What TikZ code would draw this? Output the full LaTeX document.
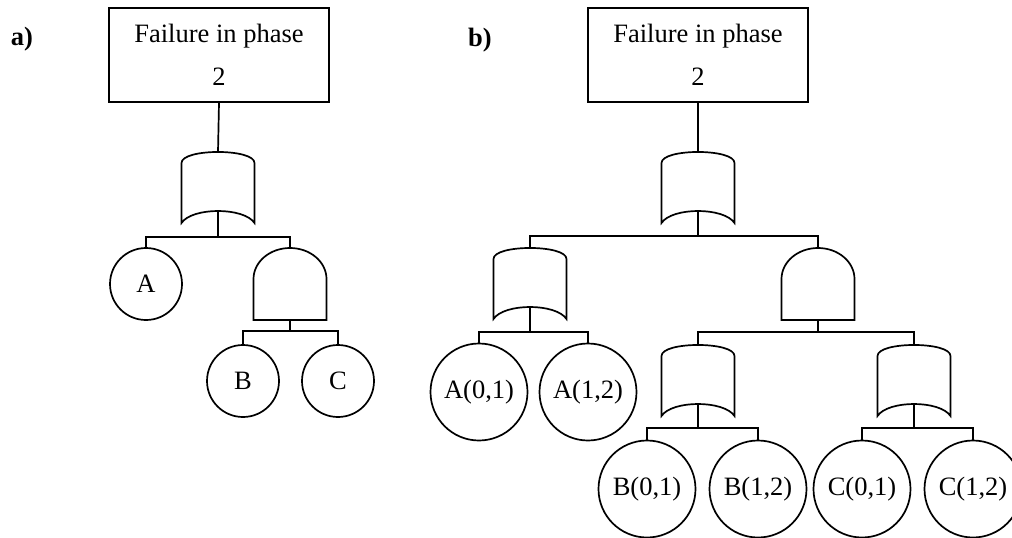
\documentclass[tikz,border=0pt]{standalone}
\usepackage{fontspec}
\setmainfont{Liberation Serif}
\usetikzlibrary{positioning}

% gate shapes, (0,0) is the input on top
\tikzset{
  orgate/.pic={
    \draw (-36.5,71) -- (-36.5,11) .. controls (-36.5,-3.7) and (36.5,-3.7) .. (36.5,11)
      -- (36.5,71) .. controls (26,55) and (-26,55) .. (-36.5,71) -- cycle;
    \coordinate (-in) at (0,0);
    \coordinate (-out) at (0,59);
  },
  andgate/.pic={
    \draw (-36.5,72) -- (-36.5,31) .. controls (-36.5,13.9) and (-20.2,0) .. (0,0)
      .. controls (20.2,0) and (36.5,13.9) .. (36.5,31) -- (36.5,72) -- cycle;
    \coordinate (-in) at (0,0);
    \coordinate (-out) at (0,72);
  }
}

\begin{document}
\begin{tikzpicture}[x=1pt, y=-1pt, line width=1.7pt,
    font=\fontsize{26.5}{31}\selectfont,
    topev/.style={draw, minimum width=220pt, minimum height=94pt, align=center,
      font=\fontsize{26.5}{43}\selectfont},
    smallev/.style={draw, circle, minimum size=72pt, inner sep=0pt},
    bigev/.style={draw, circle, minimum size=97pt, inner sep=0pt}]
    \useasboundingbox (0,0) rectangle (1012,538);

    % Panel a
    \node[font=\fontsize{26.5}{31}\selectfont\bfseries] (la) at (22,39) {a)};
    \node[topev] (topa) at (219,55) {Failure in phase\\2};
    \pic (ga1) at (218,152) {orgate};
    \pic (ga2) at (290,248) {andgate};
    \node[smallev] (ca) at (146,284) {A};
    \node[smallev] (cb) at (243,381) {B};
    \node[smallev] (cc) at (338,381) {C};

    \draw (topa.south) -- (ga1-in);
    \draw (ga1-out) -- ++(0,26) coordinate (ja1);
    \draw (ja1) -| (ca.north);
    \draw (ja1) -| (ga2-in);
    \draw (ga2-out) -- ++(0,11) coordinate (ja2);
    \draw (ja2) -| (cb.north);
    \draw (ja2) -| (cc.north);

    % Panel b
    \node[font=\fontsize{26.5}{31}\selectfont\bfseries] (lb) at (480,40) {b)};
    \node[topev] (topb) at (698,55) {Failure in phase\\2};
    \pic (gb1) at (698,152) {orgate};
    \pic (gb2) at (530,248) {orgate};
    \pic (gb3) at (818,248) {andgate};
    \pic (gb4) at (698,345) {orgate};
    \pic (gb5) at (914,345) {orgate};
    \node[bigev] (a01) at (479,392) {A(0,1)};
    \node[bigev] (a12) at (588,392) {A(1,2)};
    \node[bigev] (b01) at (647,489) {B(0,1)};
    \node[bigev] (b12) at (758,489) {B(1,2)};
    \node[bigev] (c01) at (862,489) {C(0,1)};
    \node[bigev] (c12) at (973,489) {C(1,2)};

    \draw (topb.south) -- (gb1-in);
    \draw (gb1-out) -- ++(0,25) coordinate (jb1);
    \draw (jb1) -| (gb2-in);
    \draw (jb1) -| (gb3-in);
    \draw (gb2-out) -- ++(0,25) coordinate (jb2);
    \draw (jb2) -| (a01.north);
    \draw (jb2) -| (a12.north);
    \draw (gb3-out) -- ++(0,12) coordinate (jb3);
    \draw (jb3) -| (gb4-in);
    \draw (jb3) -| (gb5-in);
    \draw (gb4-out) -- ++(0,24) coordinate (jb4);
    \draw (jb4) -| (b01.north);
    \draw (jb4) -| (b12.north);
    \draw (gb5-out) -- ++(0,24) coordinate (jb5);
    \draw (jb5) -| (c01.north);
    \draw (jb5) -| (c12.north);
\end{tikzpicture}
\end{document}
